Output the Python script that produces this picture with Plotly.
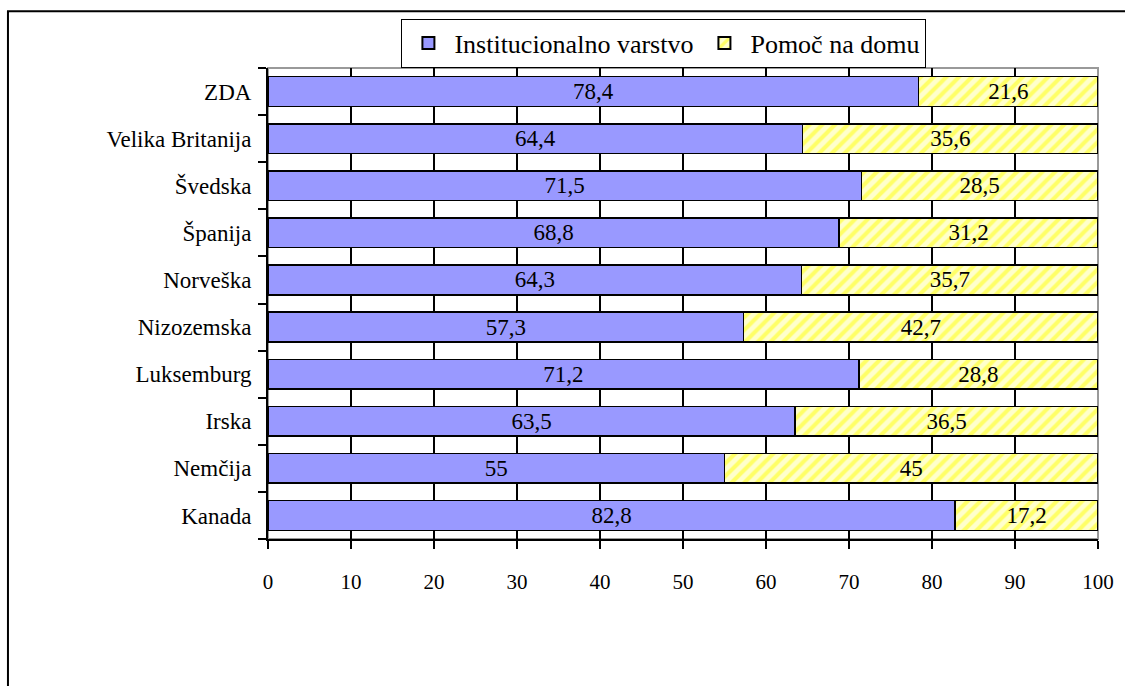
import plotly.graph_objects as go

# Countries, listed bottom to top
countries = ["Kanada", "Nemčija", "Irska", "Luksemburg", "Nizozemska",
             "Norveška", "Španija", "Švedska", "Velika Britanija", "ZDA"]
institucionalno = [82.8, 55, 63.5, 71.2, 57.3, 64.3, 68.8, 71.5, 64.4, 78.4]
pomoc_doma = [17.2, 45, 36.5, 28.8, 42.7, 35.7, 31.2, 28.5, 35.6, 21.6]
x_ticks = [0, 10, 20, 30, 40, 50, 60, 70, 80, 90, 100]

FONT = "Liberation Serif, Times New Roman, serif"


def fmt(v):
    return ("%g" % v).replace(".", ",")


fig = go.Figure()
fig.add_trace(go.Bar(
    y=countries, x=institucionalno, orientation="h",
    name="Institucionalno varstvo",
    marker=dict(color="#9999FF", line=dict(color="black", width=1.5)),
    text=[fmt(v) for v in institucionalno],
    textposition="inside", insidetextanchor="middle", textangle=0,
    textfont=dict(family=FONT, size=23, color="black"),
))
fig.add_trace(go.Bar(
    y=countries, x=pomoc_doma, orientation="h",
    name="Pomoč na domu",
    marker=dict(color="#FFFFCC", line=dict(color="black", width=1.5),
                pattern=dict(shape="/", fgcolor="#FFFF00", bgcolor="#FFFFCC",
                             size=9, solidity=0.45, fillmode="overlay")),
    text=[fmt(v) for v in pomoc_doma],
    textposition="inside", insidetextanchor="middle", textangle=0,
    textfont=dict(family=FONT, size=23, color="black"),
))

fig.update_layout(
    width=1125, height=686,
    margin=dict(l=268, r=27, t=68, b=147),
    barmode="stack", bargap=0.37,
    paper_bgcolor="white", plot_bgcolor="white",
    font=dict(family=FONT, size=21, color="black"),
    uniformtext=dict(minsize=23, mode="show"),
    legend=dict(
        orientation="h", x=0.477, y=1.105, xanchor="center", yanchor="top",
        bordercolor="black", borderwidth=1, bgcolor="white",
        font=dict(family=FONT, size=26, color="black"),
        itemsizing="constant", traceorder="normal",
        itemwidth=42,
    ),
    xaxis=dict(
        range=[0, 100], tickvals=x_ticks, ticks="outside", ticklen=8,
        tickwidth=2, tickcolor="black",
        showgrid=True, gridcolor="black", gridwidth=2,
        showline=True, linecolor="black", linewidth=2,
        zeroline=False, ticklabelstandoff=15,
        tickfont=dict(family=FONT, size=21, color="black"),
        fixedrange=True,
    ),
    yaxis=dict(
        type="category", categoryorder="array", categoryarray=countries,
        ticks="outside", tickson="boundaries", ticklen=8, tickwidth=2,
        tickcolor="black", showline=True, linecolor="black", linewidth=2,
        showgrid=False, ticklabelstandoff=10,
        tickfont=dict(family=FONT, size=23, color="black"),
        fixedrange=True,
    ),
    shapes=[
        # light frame of the plot area
        dict(type="rect", xref="paper", yref="paper", x0=0, y0=0, x1=1, y1=1,
             line=dict(color="#999999", width=2), layer="below"),
        # outer chart border
        dict(type="rect", xref="paper", yref="paper",
             x0=-0.3133, y0=-0.5, x1=1.2, y1=1.1207,
             line=dict(color="black", width=2), layer="below"),
    ],
)

fig.write_html("out.html")
